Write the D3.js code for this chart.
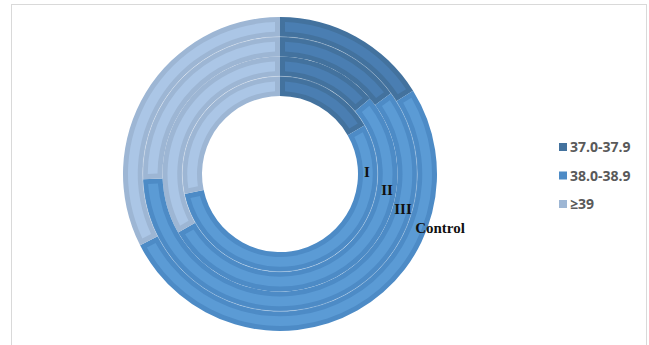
<!DOCTYPE html>
<html>
<head>
<meta charset="utf-8">
<script src="https://cdn.jsdelivr.net/npm/d3@7"></script>
<style>
  body { margin: 0; background: #fff; }
</style>
</head>
<body>
<script>
// ring names, inner to outer
const rings = ["I", "II", "III", "Control"];
// temperature groups
const categories = ["37.0-37.9", "38.0-38.9", "≥39"];
// share of each group (%) per ring
const ringI = [16.7, 55.0, 28.3];
const ringII = [13.9, 52.8, 33.3];
const ringIII = [15.0, 59.4, 25.6];
const ringControl = [16.1, 51.4, 32.5];
const ringValues = [ringI, ringII, ringIII, ringControl];

const width = 649, height = 345;
const cx = 280, cy = 174;
const innerR = 78, outerR = 157;

const svg = d3.select("body").append("svg")
    .attr("width", width)
    .attr("height", height);

// chart frame
svg.append("rect")
    .attr("x", 11.5).attr("y", 4.5)
    .attr("width", 635).attr("height", 350)
    .style("fill", "none")
    .style("stroke", "#d9d9d9")
    .style("stroke-width", 1);

// border colour and inner fill per group
const edgeColor = d3.scaleOrdinal().domain(categories).range(["#43729e", "#4d8bc6", "#9db6d4"]);
const fillColor = d3.scaleOrdinal().domain(categories).range(["#4a7eb2", "#5b9bd5", "#abc6e6"]);

const rScale = d3.scaleBand()
    .domain(rings)
    .range([innerR, outerR])
    .padding(0);

const pie = d3.pie().sort(null);

const g = svg.append("g")
    .attr("transform", `translate(${cx},${cy})`);

rings.forEach(function(ring, i) {
    const r0 = rScale(ring);
    const r1 = r0 + rScale.bandwidth();
    const slices = pie(ringValues[i]);

    const outerArc = d3.arc().innerRadius(r0).outerRadius(r1);
    const insetArc = d3.arc()
        .innerRadius(r0 + 5)
        .outerRadius(r1 - 5)
        .padRadius(100)
        .padAngle(0.1);

    const ringG = g.append("g").attr("class", "ring-" + i);

    ringG.selectAll("path.edge")
        .data(slices)
        .join("path")
        .attr("class", "edge")
        .attr("d", outerArc)
        .attr("fill", (d, j) => edgeColor(categories[j]));

    ringG.selectAll("path.inner")
        .data(slices)
        .join("path")
        .attr("class", "inner")
        .attr("d", insetArc)
        .attr("fill", (d, j) => fillColor(categories[j]));
});

// faint white separators between some rings
[rScale("II"), rScale("Control")].forEach(function(r) {
    g.append("circle")
        .attr("r", r)
        .style("fill", "none")
        .style("stroke", "#ffffff")
        .style("stroke-opacity", 0.35)
        .style("stroke-width", 0.7);
});

// ring labels
const labelPos = [[367, 177], [387, 195], [403, 214], [440, 233]];
svg.selectAll("text.ring-label")
    .data(rings)
    .join("text")
    .attr("class", "ring-label")
    .attr("x", (d, i) => labelPos[i][0])
    .attr("y", (d, i) => labelPos[i][1])
    .attr("text-anchor", "middle")
    .style("font-family", "'Liberation Serif', 'Times New Roman', serif")
    .style("font-weight", "bold")
    .style("font-size", "15px")
    .style("fill", "#111")
    .text(d => d);

// legend
const legend = svg.append("g")
    .attr("transform", "translate(559,147)");

const legendRow = 28.5;

legend.selectAll("rect")
    .data(categories)
    .join("rect")
    .attr("x", 0)
    .attr("y", (d, i) => i * legendRow - 4)
    .attr("width", 8)
    .attr("height", 8)
    .style("fill", d => edgeColor(d));

legend.selectAll("text")
    .data(categories)
    .join("text")
    .attr("x", 11)
    .attr("y", (d, i) => i * legendRow)
    .attr("dy", "0.36em")
    .style("font-family", "'Open Sans', sans-serif")
    .style("font-weight", "700")
    .style("font-size", "14px")
    .style("fill", "#595959")
    .text(d => d);
</script>
</body>
</html>
